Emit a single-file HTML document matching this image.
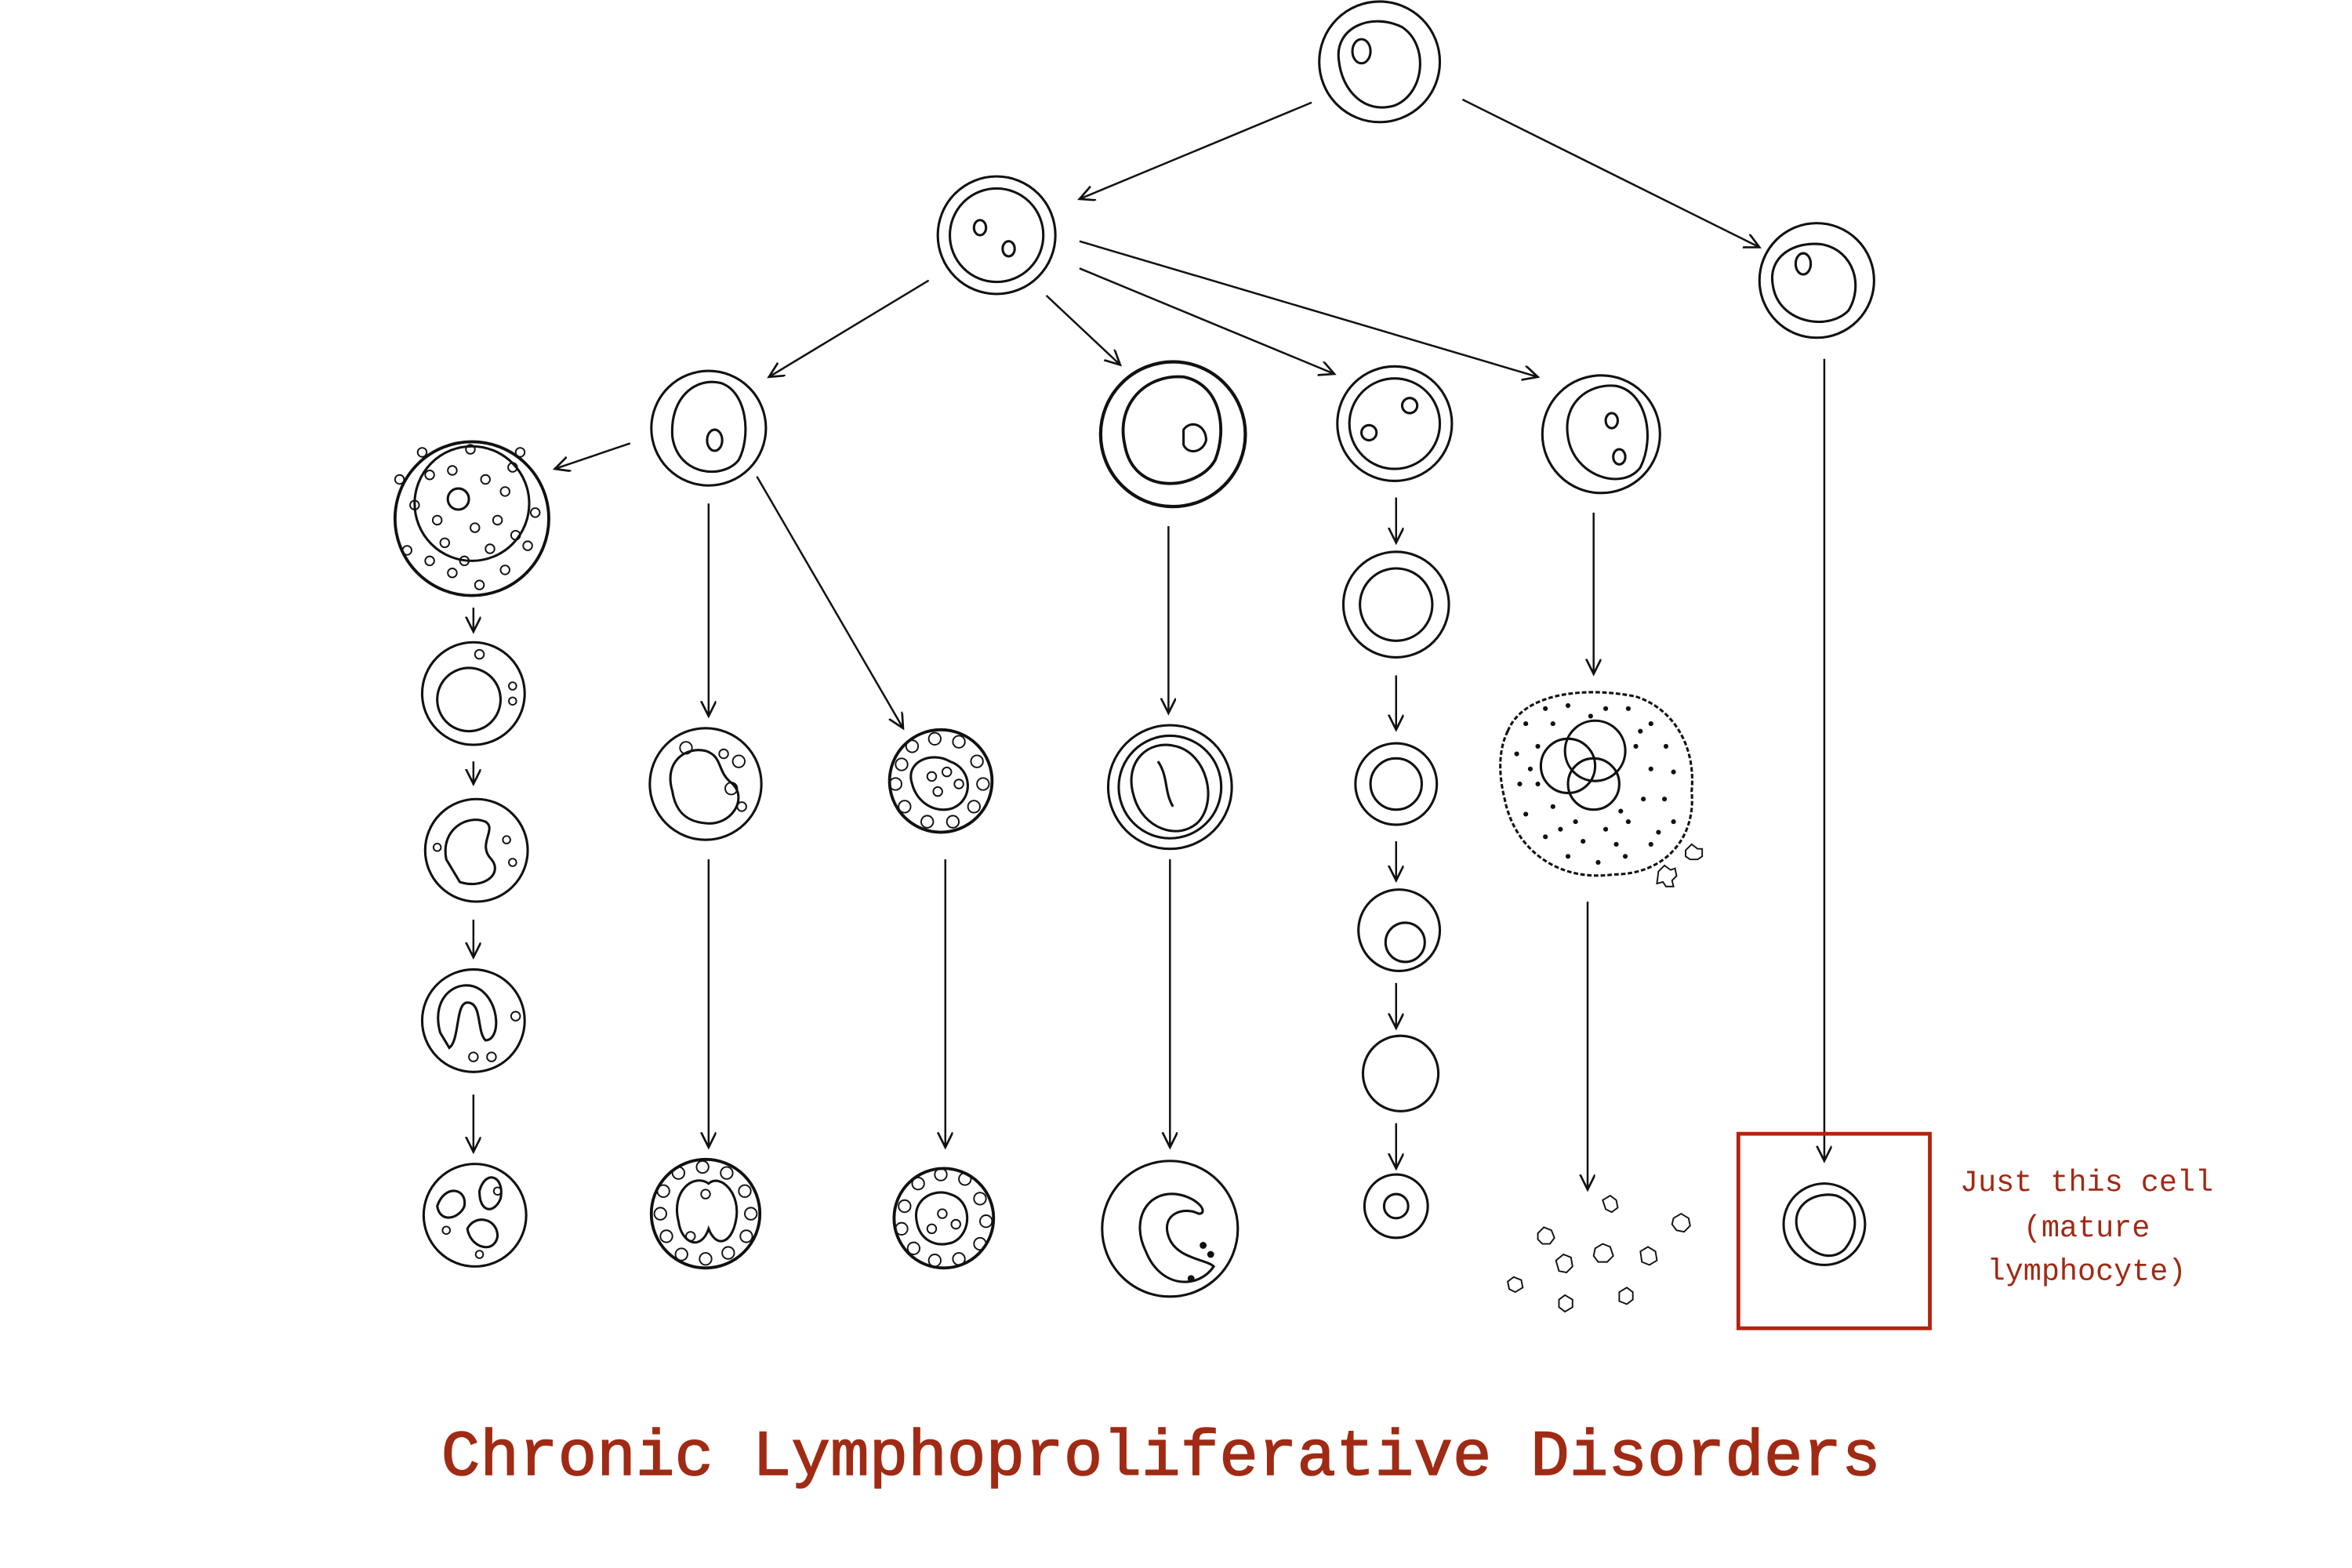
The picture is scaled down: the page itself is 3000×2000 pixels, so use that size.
<!DOCTYPE html>
<html><head><meta charset="utf-8"><style>html,body{margin:0;padding:0;background:#fff}svg{display:block}</style></head>
<body>
<svg width="3000" height="2000" viewBox="0 0 1560 1040" xmlns="http://www.w3.org/2000/svg">
<defs><marker id="a" markerWidth="12" markerHeight="12" refX="10" refY="5" orient="auto" markerUnits="userSpaceOnUse"><path d="M0,0 L10,5 L0,10" fill="none" stroke="#111" stroke-width="1.4"/></marker></defs>
<g fill="none" stroke="#111" stroke-width="1.6">
<g marker-end="url(#a)" stroke-width="1.3">
<line x1="870" y1="68" x2="716" y2="132"/><line x1="970" y1="66" x2="1167" y2="164"/>
<line x1="616" y1="186" x2="510" y2="250"/><line x1="694" y1="196" x2="743" y2="242"/>
<line x1="716" y1="178" x2="885" y2="248"/><line x1="716" y1="160" x2="1020" y2="250"/>
<line x1="418" y1="294" x2="368" y2="311"/>
<line x1="314" y1="403" x2="314" y2="419"/><line x1="314" y1="505" x2="314" y2="520"/><line x1="314" y1="610" x2="314" y2="635"/><line x1="314" y1="726" x2="314" y2="764"/>
<line x1="470" y1="334" x2="470" y2="475"/><line x1="470" y1="570" x2="470" y2="761"/>
<line x1="502" y1="316" x2="599" y2="483"/><line x1="627" y1="570" x2="627" y2="761"/>
<line x1="775" y1="349" x2="775" y2="473"/><line x1="776" y1="570" x2="776" y2="761"/>
<line x1="926" y1="330" x2="926" y2="360"/><line x1="926" y1="448" x2="926" y2="484"/><line x1="926" y1="558" x2="926" y2="584"/><line x1="926" y1="652" x2="926" y2="682"/><line x1="926" y1="745" x2="926" y2="775"/>
<line x1="1057" y1="340" x2="1057" y2="447"/><line x1="1053" y1="598" x2="1053" y2="789"/>
<line x1="1210" y1="238" x2="1210" y2="770"/>
</g>
<circle cx="915" cy="41" r="40"/><path d="M888,40 C885,18 910,8 930,18 C948,30 945,62 925,70 C905,76 890,60 888,40Z"/><ellipse cx="903" cy="34" rx="6" ry="8"/>
<circle cx="661" cy="156" r="39"/><circle cx="661" cy="156" r="31"/><ellipse cx="650" cy="151" rx="4" ry="5"/><ellipse cx="669" cy="165" rx="4" ry="5"/>
<circle cx="1205" cy="186" r="38"/><path d="M1176,190 C1172,170 1190,160 1208,162 C1230,166 1236,190 1226,206 C1212,220 1180,214 1176,190Z"/><ellipse cx="1196" cy="175" rx="5" ry="7"/>
<circle cx="470" cy="284" r="38"/><path d="M446,290 C444,265 460,250 478,254 C496,260 498,290 490,305 C480,318 450,316 446,290Z"/><ellipse cx="474" cy="292" rx="5" ry="7"/>
<circle cx="778" cy="288" r="48" stroke-width="2.2"/><path d="M746,295 C740,268 760,248 785,250 C810,255 814,285 806,305 C795,325 752,330 746,295Z" stroke-width="2"/><path d="M785,285 C790,278 800,282 800,292 C798,300 788,302 785,295Z"/>
<circle cx="925" cy="281" r="38"/><circle cx="925" cy="281" r="30"/><circle cx="935" cy="269" r="5"/><circle cx="908" cy="287" r="5"/>
<circle cx="1062" cy="288" r="39"/><path d="M1040,290 C1036,266 1055,254 1072,256 C1092,260 1098,290 1088,310 C1076,326 1044,316 1040,290Z"/><ellipse cx="1069" cy="279" rx="4" ry="5"/><ellipse cx="1074" cy="303" rx="4" ry="5"/>
<circle cx="313" cy="344" r="51" stroke-width="2"/><circle cx="313" cy="334" r="38"/><circle cx="304" cy="331" r="7"/>
<g stroke-width="1">
<circle cx="285" cy="315" r="3"/><circle cx="300" cy="312" r="3"/><circle cx="322" cy="318" r="3"/><circle cx="335" cy="326" r="3"/><circle cx="290" cy="345" r="3"/><circle cx="315" cy="350" r="3"/><circle cx="330" cy="345" r="3"/><circle cx="340" cy="310" r="3"/><circle cx="275" cy="335" r="3"/><circle cx="270" cy="365" r="3"/><circle cx="285" cy="372" r="3"/><circle cx="300" cy="380" r="3"/><circle cx="318" cy="388" r="3"/><circle cx="335" cy="378" r="3"/><circle cx="350" cy="362" r="3"/><circle cx="355" cy="340" r="3"/><circle cx="280" cy="300" r="3"/><circle cx="312" cy="298" r="3"/><circle cx="345" cy="300" r="3"/><circle cx="265" cy="318" r="3"/><circle cx="325" cy="364" r="3"/><circle cx="295" cy="360" r="3"/><circle cx="308" cy="372" r="3"/><circle cx="342" cy="355" r="3"/>
<circle cx="318" cy="434" r="3"/><circle cx="340" cy="455" r="2.5"/><circle cx="340" cy="465" r="2.5"/><circle cx="290" cy="562" r="2.5"/><circle cx="336" cy="557" r="2.5"/><circle cx="340" cy="572" r="2.5"/><circle cx="342" cy="674" r="3"/><circle cx="314" cy="701" r="3"/><circle cx="326" cy="701" r="3"/><circle cx="296" cy="816" r="2.5"/><circle cx="318" cy="832" r="2.5"/><circle cx="330" cy="790" r="2.5"/>
</g>
<circle cx="314" cy="460" r="34"/><circle cx="311" cy="464" r="21"/>
<circle cx="316" cy="564" r="34"/><path d="M296,570 C292,550 310,540 322,545 C330,550 316,560 326,570 C334,580 320,590 305,585Z"/>
<circle cx="314" cy="677" r="34"/><path d="M292,685 C285,660 305,648 318,656 C332,665 332,690 322,690 C316,684 320,665 310,665 C302,665 305,690 298,695Z"/>
<circle cx="315" cy="806" r="34"/><path d="M290,800 C295,785 310,788 308,800 C305,808 292,812 290,800Z"/><path d="M318,790 C322,775 335,780 332,795 C328,805 318,805 318,790Z"/><path d="M310,815 C315,805 330,808 330,820 C328,832 312,828 310,815Z"/>
<circle cx="468" cy="520" r="37"/><path d="M446,525 C440,505 455,495 468,498 C480,502 475,512 486,520 C496,530 485,548 468,546 C455,545 448,538 446,525Z"/>
<g stroke-width="1"><circle cx="455" cy="496" r="4"/><circle cx="490" cy="505" r="4"/><circle cx="485" cy="523" r="4"/><circle cx="492" cy="535" r="3"/><circle cx="480" cy="500" r="3"/></g>
<circle cx="468" cy="805" r="36" stroke-width="2"/><path d="M450,810 C445,790 460,778 470,785 C478,778 492,792 488,810 C485,825 475,828 470,815 C465,830 452,825 450,810Z"/>
<g stroke-width="1"><circle cx="440" cy="790" r="4"/><circle cx="438" cy="805" r="4"/><circle cx="442" cy="820" r="4"/><circle cx="452" cy="832" r="4"/><circle cx="468" cy="835" r="4"/><circle cx="483" cy="831" r="4"/><circle cx="495" cy="820" r="4"/><circle cx="498" cy="805" r="4"/><circle cx="494" cy="790" r="4"/><circle cx="482" cy="778" r="4"/><circle cx="466" cy="774" r="4"/><circle cx="450" cy="778" r="4"/><circle cx="468" cy="792" r="3"/><circle cx="458" cy="820" r="3"/></g>
<circle cx="624" cy="518" r="34" stroke-width="2"/><path d="M605,520 C600,505 618,498 630,505 C645,510 646,530 632,536 C620,540 608,532 605,520Z"/>
<g stroke-width="1"><circle cx="605" cy="495" r="4"/><circle cx="620" cy="490" r="4"/><circle cx="636" cy="492" r="4"/><circle cx="648" cy="505" r="4"/><circle cx="652" cy="520" r="4"/><circle cx="646" cy="535" r="4"/><circle cx="632" cy="545" r="4"/><circle cx="615" cy="545" r="4"/><circle cx="600" cy="535" r="4"/><circle cx="594" cy="520" r="4"/><circle cx="598" cy="507" r="4"/><circle cx="618" cy="515" r="3"/><circle cx="628" cy="512" r="3"/><circle cx="622" cy="525" r="3"/><circle cx="636" cy="520" r="3"/></g>
<circle cx="626" cy="808" r="33" stroke-width="2"/><path d="M608,810 C605,795 620,788 630,792 C645,796 645,818 632,824 C620,828 610,822 608,810Z"/>
<g stroke-width="1"><circle cx="600" cy="800" r="4"/><circle cx="598" cy="815" r="4"/><circle cx="606" cy="828" r="4"/><circle cx="620" cy="836" r="4"/><circle cx="636" cy="835" r="4"/><circle cx="650" cy="825" r="4"/><circle cx="654" cy="810" r="4"/><circle cx="650" cy="795" r="4"/><circle cx="640" cy="782" r="4"/><circle cx="624" cy="779" r="4"/><circle cx="609" cy="785" r="4"/><circle cx="625" cy="805" r="3"/><circle cx="618" cy="815" r="3"/><circle cx="634" cy="812" r="3"/></g>
<circle cx="776" cy="522" r="41"/><circle cx="776" cy="522" r="34"/><path d="M752,528 C745,505 762,490 780,495 C800,500 808,530 795,545 C782,558 758,550 752,528Z"/><path d="M768,505 C775,515 772,525 778,535"/>
<circle cx="776" cy="815" r="45"/><path d="M760,830 C750,810 760,790 780,792 C795,794 802,805 795,805 C785,800 770,805 775,820 C780,835 800,835 805,840 C795,855 770,855 760,830Z"/>
<circle cx="798" cy="826" r="1.5" fill="#111"/><circle cx="803" cy="832" r="1.5" fill="#111"/><circle cx="790" cy="848" r="1.5" fill="#111"/>
<circle cx="926" cy="401" r="35"/><circle cx="926" cy="401" r="24"/>
<circle cx="926" cy="520" r="27"/><circle cx="926" cy="520" r="17"/>
<circle cx="928" cy="617" r="27"/><circle cx="932" cy="625" r="13"/>
<circle cx="929" cy="712" r="25"/>
<circle cx="926" cy="800" r="21"/><circle cx="926" cy="800" r="8"/>
<path d="M1000,485 C1010,460 1050,455 1085,462 C1110,470 1125,495 1122,525 C1125,555 1105,580 1070,580 C1035,585 1005,565 998,530 C993,510 995,495 1000,485Z" stroke-dasharray="3 1.5"/>
<circle cx="1058" cy="498" r="20"/><circle cx="1040" cy="508" r="18"/><circle cx="1057" cy="520" r="17"/>
<g fill="#111" stroke="none">
<circle cx="1012" cy="480" r="1.6"/><circle cx="1025" cy="470" r="1.6"/><circle cx="1040" cy="468" r="1.6"/><circle cx="1080" cy="470" r="1.6"/><circle cx="1095" cy="480" r="1.6"/><circle cx="1105" cy="495" r="1.6"/><circle cx="1110" cy="512" r="1.6"/><circle cx="1104" cy="530" r="1.6"/><circle cx="1110" cy="545" r="1.6"/><circle cx="1095" cy="560" r="1.6"/><circle cx="1078" cy="568" r="1.6"/><circle cx="1060" cy="572" r="1.6"/><circle cx="1040" cy="568" r="1.6"/><circle cx="1025" cy="555" r="1.6"/><circle cx="1012" cy="540" r="1.6"/><circle cx="1008" cy="520" r="1.6"/><circle cx="1006" cy="500" r="1.6"/><circle cx="1020" cy="495" r="1.6"/><circle cx="1085" cy="495" r="1.6"/><circle cx="1090" cy="530" r="1.6"/><circle cx="1080" cy="545" r="1.6"/><circle cx="1065" cy="550" r="1.6"/><circle cx="1045" cy="545" r="1.6"/><circle cx="1030" cy="535" r="1.6"/><circle cx="1020" cy="520" r="1.6"/><circle cx="1095" cy="510" r="1.6"/><circle cx="1072" cy="560" r="1.6"/><circle cx="1050" cy="558" r="1.6"/><circle cx="1035" cy="550" r="1.6"/><circle cx="1100" cy="552" r="1.6"/><circle cx="1065" cy="470" r="1.6"/><circle cx="1055" cy="475" r="1.6"/><circle cx="1030" cy="480" r="1.6"/><circle cx="1015" cy="510" r="1.6"/><circle cx="1088" cy="485" r="1.6"/><circle cx="1075" cy="538" r="1.6"/>
</g>
<g stroke-width="1">
<path d="M1100,578 l4,-4 4,3 3,-1 1,5 -3,3 1,4 -5,0 -2,-3 -4,1 z"/><path d="M1118,564 l4,-4 4,3 3,0 0,5 -3,2 -5,0 -3,-2 z"/>
<path d="M1020,818 l4,-4 5,2 2,5 -3,4 -5,0 -3,-3z"/><path d="M1063,796 l5,-3 4,3 1,5 -4,3 -4,-2z"/><path d="M1110,808 l5,-3 5,3 1,5 -4,4 -5,-1 -3,-4z"/><path d="M1032,836 l5,-4 5,2 1,6 -4,4 -5,-1z"/><path d="M1058,828 l5,-3 5,2 2,6 -4,4 -6,0 -3,-4z"/><path d="M1088,830 l5,-3 5,3 1,6 -5,3 -5,-2z"/><path d="M1000,850 l4,-3 5,2 1,5 -5,3 -4,-2z"/><path d="M1034,862 l4,-3 5,3 0,5 -5,3 -4,-3z"/><path d="M1074,857 l5,-3 4,3 0,5 -4,3 -5,-2z"/>
</g>
<circle cx="1210" cy="812" r="27"/><path d="M1192,815 C1188,798 1205,790 1218,793 C1232,798 1234,815 1224,828 C1215,838 1198,832 1192,815Z"/>
<rect x="1153" y="752" width="127" height="129" stroke="#b3230f" stroke-width="2.5"/>
</g>
<g fill="#a02a14" font-family="'Liberation Mono', monospace" text-anchor="middle">
<text x="1384" y="790" font-size="20">Just this cell</text>
<text x="1384" y="820" font-size="20">(mature</text>
<text x="1384" y="849" font-size="20">lymphocyte)</text>
<text x="770" y="978" font-size="43" stroke="#a02a14" stroke-width="0.8">Chronic Lymphoproliferative Disorders</text>
</g>
</svg>
</body></html>
